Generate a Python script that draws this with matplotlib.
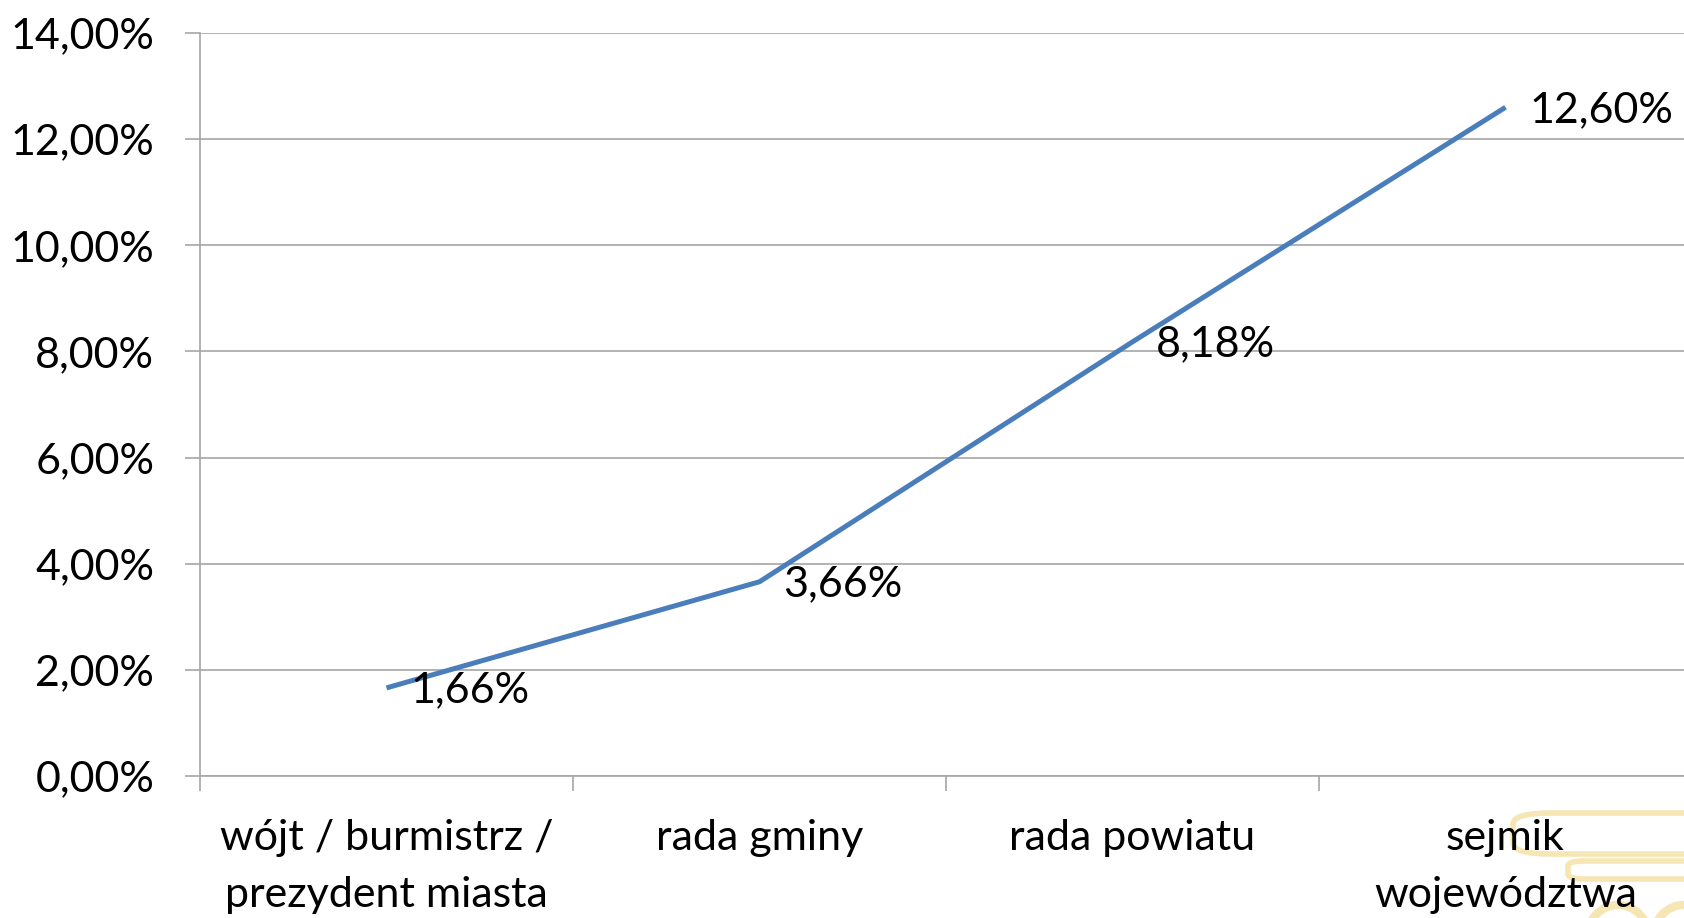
import matplotlib.pyplot as plt
from matplotlib.patches import FancyBboxPatch, Circle
from matplotlib.ticker import FuncFormatter, MultipleLocator, FixedLocator

plt.rcParams['font.family'] = ['Lato', 'DejaVu Sans']

# ============ data ============
categories = ["wójt / burmistrz /\nprezydent miasta", "rada gminy",
              "rada powiatu", "sejmik\nwojewództwa"]
values = [0.0166, 0.0366, 0.0818, 0.1260]
value_labels = ["1,66%", "3,66%", "8,18%", "12,60%"]

W, H = 1684, 918
fig = plt.figure(figsize=(W / 100, H / 100), dpi=100)

# decorative logo fragment, bottom right (behind everything)
gold = "#f6e6b4"
for x0, y0, x1, y1 in [(1513, 813, 1740, 854), (1568, 861, 1740, 879)]:
    r = (y1 - y0) / 2
    p = FancyBboxPatch((x0 / W, 1 - y1 / H), (x1 - x0) / W, (y1 - y0) / H,
                       boxstyle=f"round,pad=0,rounding_size={r / H}",
                       transform=fig.transFigure, fill=False,
                       edgecolor=gold, lw=4, mutation_aspect=H / W, zorder=-1)
    fig.patches.append(p)
for cx, cy, rad in [(1618, 935, 30), (1684, 935, 30)]:
    c = Circle((cx, H - cy), rad, transform=None, fill=False,
               edgecolor=gold, lw=6, zorder=-1)
    fig.patches.append(c)

ax = fig.add_axes([200 / W, 1 - 776 / H, 1492 / W, (776 - 33) / H])
ax.patch.set_alpha(0)

x = [i + 0.5 for i in range(len(values))]
ax.plot(x, values, color="#4a7ebb", lw=3.6, solid_capstyle="butt", zorder=3)

for xi, v, lab in zip(x, values, value_labels):
    ax.annotate(lab, (xi, v), xytext=(17, -2), textcoords="offset points",
                ha="left", va="center", fontsize=31, color="black")

ax.set_xlim(0, len(values))
ax.set_ylim(0, 0.14)
ax.yaxis.set_major_locator(MultipleLocator(0.02))
ax.yaxis.set_major_formatter(FuncFormatter(lambda v, p: f"{v * 100:.2f}%".replace(".", ",")))
ax.grid(axis="y", color="#a6a6a6", lw=1.2)
ax.set_axisbelow(True)

ax.xaxis.set_major_locator(FixedLocator(x))
ax.set_xticklabels(categories, fontsize=31, linespacing=1.62)
ax.xaxis.set_minor_locator(FixedLocator(range(len(values) + 1)))
ax.tick_params(axis="x", which="major", length=0, pad=31)
ax.tick_params(axis="x", which="minor", length=11, color="#a6a6a6", width=1.2)
ax.tick_params(axis="y", length=11, color="#a6a6a6", width=1.2, labelsize=31, pad=22)

for s in ["top", "right"]:
    ax.spines[s].set_visible(False)
ax.spines["left"].set_color("#a6a6a6")
ax.spines["bottom"].set_color("#a6a6a6")
ax.spines["left"].set_linewidth(1.2)
ax.spines["bottom"].set_linewidth(1.2)

fig.savefig("out.png", dpi=100)
